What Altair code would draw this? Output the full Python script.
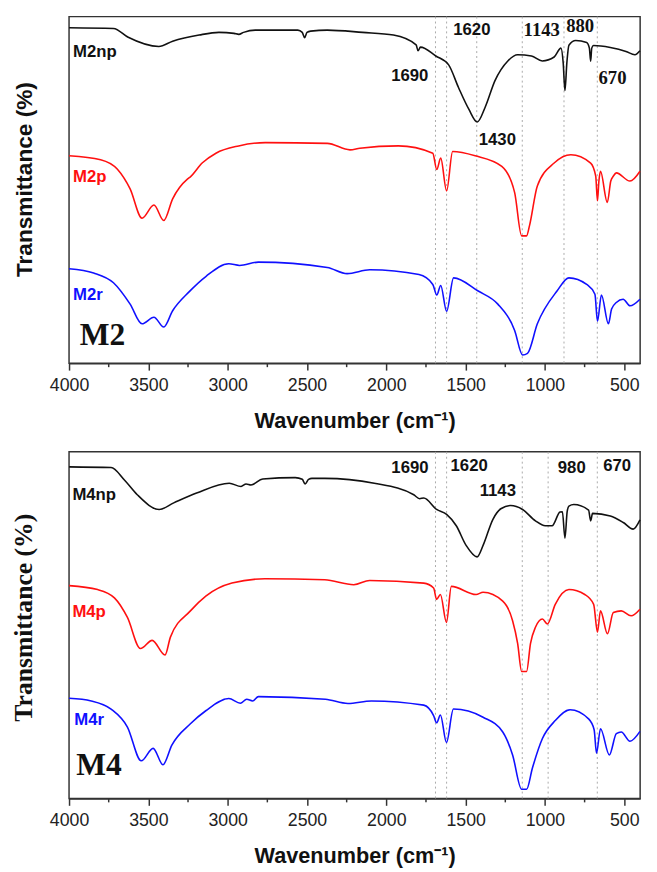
import altair as alt
import pandas as pd

# ---------------- data (wavenumber, transmittance a.u.) -------------
m2np_wn = [4000, 3720, 3627, 3434, 3347, 3180, 3055, 2960, 2930, 2900, 2826, 2558, 2530, 2515, 2500,
           2477, 2372, 2150, 1955, 1812, 1800, 1785, 1688, 1607, 1545, 1480, 1427, 1377, 1315, 1234,
           1172, 1085, 1017, 942, 899, 885, 874, 862, 849, 806, 737, 720, 712, 705, 694, 588, 489, 433, 401]
m2np_t = [340.7, 340, 331, 321.7, 327, 333.3, 336, 335, 334, 336, 338.3, 338.3, 336, 330.7, 336,
          337.3, 338.3, 336, 333.3, 323.3, 317.3, 321, 312, 303, 280, 258, 245, 260, 287, 307,
          313.3, 312, 307, 311, 320, 305, 277, 305, 323, 327.7, 325.7, 320, 306.7, 320, 322.7, 320.7, 316.7, 313.3, 317.3]

m2p_wn = [4000, 3801, 3695, 3615, 3540, 3465, 3403, 3347, 3254, 3235, 3161, 3074, 2931, 2763, 2372,
          2229, 2167, 1924, 1707, 1682, 1657, 1620, 1582, 1440, 1272, 1191, 1147, 1116, 1097, 1048,
          942, 837, 712, 680, 669, 660, 650, 607, 585, 569, 550, 464, 401]
m2p_t = [210.7, 206.7, 197, 177, 147.3, 160.7, 145, 167, 187, 189.3, 203.3, 213.3, 220.7, 224, 223.3,
         216.7, 218.3, 220.7, 213.3, 196.7, 208.3, 175, 215, 210.7, 200, 173.3, 129.3, 129.3, 140, 180,
         203.3, 211.7, 203.3, 190, 165, 185, 195, 163.3, 185, 190, 193.3, 185, 195]

m2r_wn = [4000, 3845, 3720, 3615, 3540, 3465, 3403, 3347, 3242, 3136, 2993, 2925, 2807, 2372, 2247,
          2104, 1794, 1707, 1682, 1657, 1620, 1576, 1421, 1297, 1191, 1141, 1110, 1048, 924, 849,
          737, 685, 669, 644, 600, 580, 550, 507, 464, 401]
m2r_t = [96, 91.7, 81.7, 60, 40, 46.7, 36.7, 53.3, 72.7, 88.3, 101, 99.3, 102.7, 97.3, 91,
         95, 90, 80, 69.3, 79, 52.7, 86.7, 73.3, 60, 33.3, 8.3, 10, 40, 73.3, 86.7,
         80, 70, 42.7, 69.3, 40, 55, 61.7, 65, 58.3, 65]

m4np_wn = [4000, 3735, 3651, 3570, 3432, 3340, 3196, 2990, 2916, 2884, 2853, 2779, 2574, 2530, 2512,
           2490, 2469, 2388, 2076, 1827, 1790, 1764, 1683, 1620, 1559, 1497, 1428, 1390, 1328, 1278,
           1216, 1141, 1060, 998, 955, 905, 890, 874, 860, 849, 818, 725, 712, 700, 588, 506, 444, 401]
m4np_t = [337.7, 337, 324.3, 309.3, 294.3, 301, 311, 321, 317.7, 320.3, 319.3, 325.3, 326.7, 325, 320.3,
          325, 326, 326, 321, 309.3, 305.3, 306, 294.3, 289.3, 277.7, 257.7, 246, 257.7, 284.3, 295,
          298.3, 294.3, 282.7, 277.7, 277.7, 291.7, 292, 265, 292, 297.7, 299.3, 293.7, 282.7, 290.3, 287.7, 281, 274.3, 283.7]

m4p_wn = [4000, 3820, 3714, 3632, 3550, 3476, 3395, 3361, 3235, 3138, 2973, 2766, 2388, 2205, 2105,
          1764, 1702, 1683, 1659, 1621, 1590, 1434, 1390, 1266, 1204, 1172, 1147, 1116, 1091, 1060,
          1016, 985, 935, 849, 749, 693, 669, 650, 606, 569, 519, 457, 401]
m4p_t = [216.7, 212.7, 204.3, 184.3, 152.7, 161, 146, 164.3, 191, 206, 219.3, 223.7, 222.7, 217.7, 222,
         219.3, 214.3, 202.7, 207.7, 179.3, 216, 207.7, 210, 201, 181, 157.7, 129.3, 129.3, 158, 174.3,
         182.7, 177.7, 197.7, 212.7, 207.7, 197.7, 169.3, 191, 167.7, 189.3, 191, 186, 192.7]

m4r_wn = [4000, 3860, 3735, 3632, 3545, 3470, 3408, 3352, 3235, 3138, 2993, 2920, 2880, 2843, 2806,
          2384, 2242, 2094, 1764, 1702, 1683, 1659, 1621, 1577, 1390, 1266, 1204, 1147, 1116, 1079,
          1016, 935, 842, 725, 690, 675, 650, 594, 550, 519, 464, 401]
m4r_t = [102, 99.3, 91, 72.7, 38.3, 51, 34.3, 54.3, 76, 89.3, 101.7, 97, 101, 99.3, 103.7,
         101, 96.7, 99.3, 95, 84.3, 77, 85, 57, 91, 82.7, 67.7, 44.3, 9.3, 9.3, 31,
         61, 79.3, 90.3, 81, 70, 46, 71, 44.3, 66, 67.7, 58.3, 68.3]

series_names = ["M2np", "M2p", "M2r", "M4np", "M4p", "M4r"]
series_colors = ["#111111", "#ff1010", "#1010ff", "#111111", "#ff1010", "#1010ff"]

major_ticks = [4000, 3500, 3000, 2500, 2000, 1500, 1000, 500]
minor_ticks = [3750, 3250, 2750, 2250, 1750, 1250, 750]

top_markers = [1690, 1620, 1430, 1143, 880, 670]
bot_markers = [1690, 1620, 1143, 980, 670]

top_sans_text = ["1690", "1620", "1430"]
top_sans_wn = [1852, 1461, 1300]
top_sans_t = [292, 338, 227]
top_serif_text = ["1143", "880", "670"]
top_serif_wn = [1020, 778, 574]
top_serif_t = [338, 342, 290]

bot_sans_text = ["1690", "1620", "1143", "980", "670"]
bot_sans_wn = [1851, 1478, 1297, 831, 545]
bot_sans_t = [336, 339, 313, 336, 338]

top_lbl_text = ["M2np", "M2p", "M2r"]
top_lbl_wn = [3975, 3975, 3975]
top_lbl_t = [316, 189, 69]
bot_lbl_text = ["M4np", "M4p", "M4r"]
bot_lbl_wn = [3979, 3979, 3967]
bot_lbl_t = [309, 190, 80]

SANS = "Liberation Sans"
SERIF = "Liberation Serif"
W, H = 580, 352
AX = "#333333"


def spectra_df(names, wns, ts):
    rows = []
    for n, w, t in zip(names, wns, ts):
        for a, b in zip(w, t):
            rows.append({"series": n, "wn": a, "t": b})
    return pd.DataFrame(rows)


def panel(df, ydom, markers, sans_ann, serif_ann, lbls, panel_lbl, yfont, ysize, title_y, ypad):
    xs = alt.Scale(domain=[400, 4000], reverse=True, nice=False, zero=False)
    ys = alt.Scale(domain=ydom, nice=False, zero=False)
    xaxis = alt.Axis(values=major_ticks, format="d", title="Wavenumber (cm⁻¹)", grid=False,
                     labelFont=SANS, labelFontSize=18, labelColor="#222", labelFlush=False,
                     labelOverlap=False, labelPadding=7, tickSize=7, tickWidth=1.5, tickColor=AX,
                     domainColor=AX, domainWidth=1.5, titleFont=SANS, titleFontSize=22,
                     titleFontWeight="bold", titleColor="#111", titlePadding=16)
    yaxis = alt.Axis(title="Transmittance (%)", labels=False, ticks=False, domain=False, grid=False,
                     titleFont=yfont, titleFontSize=ysize, titleFontWeight="bold", titleColor="#111",
                     titlePadding=ypad, titleY=title_y)
    X = alt.X("wn:Q", scale=xs, axis=xaxis)
    Y = alt.Y("t:Q", scale=ys, axis=yaxis)
    color = alt.Color("series:N", scale=alt.Scale(domain=series_names, range=series_colors), legend=None)

    rules = alt.Chart(pd.DataFrame({"wn": markers})).mark_rule(
        color="#aaaaaa", strokeDash=[2, 3], strokeWidth=1).encode(x=X)
    minor = alt.Chart(pd.DataFrame({"wn": minor_ticks})).mark_rule(
        color=AX, strokeWidth=1.5).encode(x=X, y=alt.value(H), y2=alt.value(H + 4))
    lines = alt.Chart(df).mark_line(strokeWidth=1.6, interpolate="monotone").encode(
        x=X, y=Y, color=color)
    layers = [rules, minor, lines]
    if sans_ann is not None:
        layers.append(alt.Chart(pd.DataFrame(dict(zip(["txt", "wn", "t"], sans_ann)))).mark_text(
            font=SANS, fontWeight="bold", fontSize=17, color="#111", baseline="middle").encode(
            x=X, y=Y, text="txt:N"))
    if serif_ann is not None:
        layers.append(alt.Chart(pd.DataFrame(dict(zip(["txt", "wn", "t"], serif_ann)))).mark_text(
            font=SERIF, fontWeight="bold", fontSize=19, color="#111", baseline="middle").encode(
            x=X, y=Y, text="txt:N"))
    lbl_df = pd.DataFrame({"series": lbls[0], "wn": lbls[1], "t": lbls[2]})
    layers.append(alt.Chart(lbl_df).mark_text(
        font=SANS, fontWeight="bold", fontSize=17, align="left", baseline="middle").encode(
        x=X, y=Y, text="series:N", color=color))
    pl_df = pd.DataFrame({"txt": [panel_lbl[0]], "wn": [panel_lbl[1]], "t": [panel_lbl[2]]})
    layers.append(alt.Chart(pl_df).mark_text(
        font=SERIF, fontWeight="bold", fontSize=32, align="left", baseline="middle", color="#111").encode(
        x=X, y=Y, text="txt:N"))
    return alt.layer(*layers).properties(width=W, height=H)


top_df = spectra_df(["M2np", "M2p", "M2r"], [m2np_wn, m2p_wn, m2r_wn], [m2np_t, m2p_t, m2r_t])
bot_df = spectra_df(["M4np", "M4p", "M4r"], [m4np_wn, m4p_wn, m4r_wn], [m4np_t, m4p_t, m4r_t])

top = panel(top_df, [0, 352], top_markers,
            (top_sans_text, top_sans_wn, top_sans_t),
            (top_serif_text, top_serif_wn, top_serif_t),
            (top_lbl_text, top_lbl_wn, top_lbl_t), ("M2", 3932, 28),
            SANS, 23, 165, 33)
bottom = panel(bot_df, [0, 353], bot_markers,
               (bot_sans_text, bot_sans_wn, bot_sans_t), None,
               (bot_lbl_text, bot_lbl_wn, bot_lbl_t), ("M4", 3955, 34),
               SERIF, 26, 168, 33)

chart = alt.vconcat(top, bottom, spacing=18).properties(
    padding={"left": 2, "top": 0, "right": 5, "bottom": 0}
).configure_view(stroke=AX, strokeWidth=1.5)

chart.save("out.html", embed_options={"renderer": "svg", "actions": False})
